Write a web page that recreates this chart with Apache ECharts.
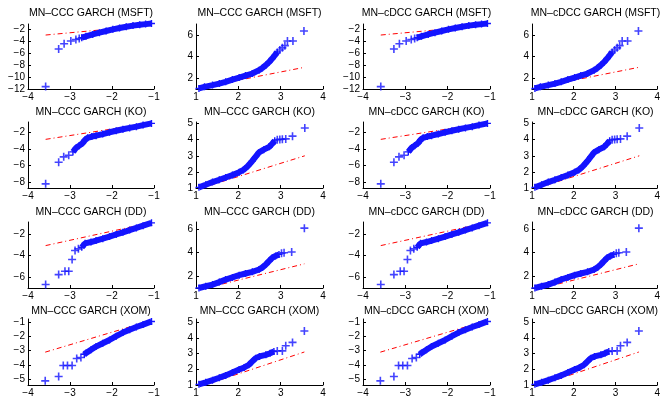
<!DOCTYPE html>
<html><head><meta charset="utf-8">
<script src="https://cdn.jsdelivr.net/npm/echarts@6/dist/echarts.min.js"></script>
<style>html,body{margin:0;padding:0;background:#fff}#c{width:663px;height:398px}</style>
</head><body><div id="c"></div>
<script>
// ---------- labels ----------
const stocks = ['MSFT', 'KO', 'DD', 'XOM'];
const models = ['MN\u2013CCC GARCH', 'MN\u2013cDCC GARCH'];

// ---------- x axes ----------
const xTicksLeft = [-4, -3, -2, -1];
const xTicksRight = [1, 2, 3, 4];
const xRangeLeft = [-4, -1];
const xRangeRight = [1, 4];

// ---------- MSFT ----------
const msftLeftTicks = [-12, -10, -8, -6, -4, -2];
const msftLeftRange = [-12, -1.1];
const msftLeftPts = [[-3.58, -11.6], [-3.27, -5.3], [-3.14, -4.4], [-2.98, -3.95], [-2.86, -3.7], [-2.78, -3.55]];
const msftLeftBand = [[-2.72, -3.4], [-2.62, -3.17], [-2.46, -2.85], [-2.30, -2.55], [-2.14, -2.27], [-1.98, -2.0], [-1.82, -1.77], [-1.66, -1.55], [-1.50, -1.37], [-1.34, -1.22], [-1.2, -1.12], [-1.06, -1.02]];
const msftLeftRef = [[-3.58, -2.95], [-1.06, -1.3]];
const msftRightTicks = [2, 4, 6];
const msftRightRange = [1, 7];
const msftRightBand = [[1.07, 1.05], [1.2, 1.2], [1.39, 1.36], [1.55, 1.5], [1.70, 1.66], [1.86, 1.87], [2.02, 2.06], [2.17, 2.24], [2.33, 2.43], [2.49, 2.74], [2.57, 2.95], [2.65, 3.2], [2.73, 3.5], [2.80, 3.81], [2.86, 4.1], [2.92, 4.42]];
const msftRightPts = [[2.98, 4.6], [3.04, 4.8], [3.10, 5.0], [3.16, 5.43], [3.29, 5.43], [3.55, 6.35]];
const msftRightRef = [[1.07, 1.1], [3.56, 3.0]];

// ---------- KO ----------
const koLeftTicks = [-8, -6, -4, -2];
const koLeftRange = [-8.7, -0.75];
const koLeftPts = [[-3.58, -8.2], [-3.27, -5.6], [-3.15, -4.95], [-3.03, -4.75]];
const koLeftBand = [[-2.93, -4.35], [-2.85, -3.85], [-2.78, -3.6], [-2.70, -3.3], [-2.64, -2.9], [-2.58, -2.65], [-2.48, -2.5], [-2.38, -2.4], [-2.22, -2.2], [-2.06, -1.99], [-1.9, -1.8], [-1.74, -1.62], [-1.58, -1.46], [-1.42, -1.31], [-1.26, -1.12], [-1.06, -0.92]];
const koLeftRef = [[-3.58, -2.84], [-1.06, -0.85]];
const koRightTicks = [1, 2, 3, 4, 5];
const koRightRange = [1, 5.1];
const koRightBand = [[1.07, 1.04], [1.23, 1.2], [1.39, 1.37], [1.55, 1.51], [1.70, 1.65], [1.86, 1.8], [2.02, 1.98], [2.12, 2.12], [2.22, 2.35], [2.33, 2.68], [2.41, 2.95], [2.49, 3.21], [2.6, 3.38], [2.73, 3.56], [2.8, 3.75], [2.86, 3.93]];
const koRightPts = [[2.92, 4.0], [2.98, 4.02], [3.04, 4.03], [3.12, 4.05], [3.28, 4.22], [3.57, 4.73]];
const koRightRef = [[1.07, 0.95], [3.57, 3.0]];

// ---------- DD ----------
const ddLeftTicks = [-6, -4, -2];
const ddLeftRange = [-7, -0.9];
const ddLeftPts = [[-3.58, -6.68], [-3.27, -5.76], [-3.12, -5.45], [-3.03, -5.45], [-2.95, -4.37], [-2.88, -3.54], [-2.80, -3.38]];
const ddLeftBand = [[-2.72, -3.24], [-2.64, -2.87], [-2.5, -2.75], [-2.38, -2.62], [-2.22, -2.44], [-2.06, -2.25], [-1.9, -2.05], [-1.74, -1.85], [-1.58, -1.65], [-1.42, -1.45], [-1.26, -1.24], [-1.06, -0.98]];
const ddLeftRef = [[-3.58, -3.08], [-1.06, -0.95]];
const ddRightTicks = [2, 4, 6];
const ddRightRange = [1, 6.6];
const ddRightBand = [[1.07, 1.0], [1.23, 1.15], [1.39, 1.29], [1.55, 1.5], [1.70, 1.72], [1.86, 1.9], [2.02, 2.09], [2.17, 2.23], [2.33, 2.37], [2.49, 2.57], [2.57, 2.75], [2.65, 3.0], [2.73, 3.3], [2.80, 3.56], [2.88, 3.72], [2.96, 3.85]];
const ddRightPts = [[3.02, 3.95], [3.08, 3.99], [3.26, 4.05], [3.56, 6.08]];
const ddRightRef = [[1.07, 0.85], [3.56, 3.05]];

// ---------- XOM ----------
const xomLeftTicks = [-5, -4, -3, -2, -1];
const xomLeftRange = [-5.4, -0.78];
const xomLeftPts = [[-3.59, -5.11], [-3.27, -4.81], [-3.16, -4.03], [-3.06, -4.03], [-2.95, -4.03], [-2.84, -3.55], [-2.74, -3.47]];
const xomLeftBand = [[-2.66, -3.25], [-2.62, -3.16], [-2.5, -2.93], [-2.38, -2.71], [-2.22, -2.48], [-2.06, -2.25], [-1.9, -1.98], [-1.74, -1.73], [-1.58, -1.53], [-1.42, -1.34], [-1.26, -1.17], [-1.06, -0.95]];
const xomLeftRef = [[-3.59, -3.10], [-1.06, -0.88]];
const xomRightTicks = [1, 2, 3, 4, 5];
const xomRightRange = [1, 5.2];
const xomRightBand = [[1.07, 1.04], [1.23, 1.17], [1.39, 1.31], [1.55, 1.46], [1.70, 1.61], [1.86, 1.79], [2.02, 1.98], [2.14, 2.12], [2.25, 2.29], [2.33, 2.5], [2.41, 2.71], [2.5, 2.82], [2.65, 2.92], [2.75, 3.02], [2.84, 3.13]];
const xomRightPts = [[2.92, 3.17], [3.04, 3.17], [3.12, 3.5], [3.28, 3.71], [3.56, 4.44]];
const xomRightRef = [[1.07, 0.88], [3.56, 3.1]];

// ---------- lookup table built from the arrays ----------
const tails = {
  MSFT: { left: { band: msftLeftBand, pts: msftLeftPts, ref: msftLeftRef, ticks: msftLeftTicks, range: msftLeftRange },
          right: { band: msftRightBand, pts: msftRightPts, ref: msftRightRef, ticks: msftRightTicks, range: msftRightRange } },
  KO:   { left: { band: koLeftBand, pts: koLeftPts, ref: koLeftRef, ticks: koLeftTicks, range: koLeftRange },
          right: { band: koRightBand, pts: koRightPts, ref: koRightRef, ticks: koRightTicks, range: koRightRange } },
  DD:   { left: { band: ddLeftBand, pts: ddLeftPts, ref: ddLeftRef, ticks: ddLeftTicks, range: ddLeftRange },
          right: { band: ddRightBand, pts: ddRightPts, ref: ddRightRef, ticks: ddRightTicks, range: ddRightRange } },
  XOM:  { left: { band: xomLeftBand, pts: xomLeftPts, ref: xomLeftRef, ticks: xomLeftTicks, range: xomLeftRange },
          right: { band: xomRightBand, pts: xomRightPts, ref: xomRightRef, ticks: xomRightTicks, range: xomRightRange } }
};

// ---------- layout ----------
const colLeft = [28, 196, 363, 532];
const colWidth = [126, 127, 127, 127];
const rowTop = [24, 122, 222, 319];
const rowHeight = [65, 66, 66, 67];
const titleY = [13, 112, 212, 311];

const FONT = '"Liberation Sans", Arial, Helvetica, sans-serif';
const BLUE = '#1414ff';
const PLUS = 'path://M4,0H6V4H10V6H6V10H4V6H0V4H4Z';
const fmt = v => String(v).replace('-', '\u2212');

const grid = [], xAxis = [], yAxis = [], series = [], graphic = [];
for (let r = 0; r < 4; r++) {
  for (let c = 0; c < 4; c++) {
    const p = r * 4 + c;
    const side = c % 2 === 0 ? 'left' : 'right';
    const model = models[c < 2 ? 0 : 1];
    const d = tails[stocks[r]][side];
    const xr = side === 'left' ? xRangeLeft : xRangeRight;
    const xt = side === 'left' ? xTicksLeft : xTicksRight;
    grid.push({ left: colLeft[c], top: rowTop[r], width: colWidth[c], height: rowHeight[r] });
    const axisCommon = {
      type: 'value', gridIndex: p, splitLine: { show: false },
      axisLine: { show: true, onZero: false, lineStyle: { color: '#000', width: 1 } }
    };
    xAxis.push(Object.assign({}, axisCommon, {
      min: xr[0], max: xr[1],
      axisTick: { show: true, inside: true, length: 3, customValues: xt, lineStyle: { color: '#000' } },
      axisLabel: { customValues: xt, formatter: fmt, fontSize: 10, color: '#000', margin: 3, fontFamily: FONT }
    }));
    yAxis.push(Object.assign({}, axisCommon, {
      min: d.range[0], max: d.range[1],
      axisTick: { show: true, inside: true, length: 3, customValues: d.ticks, lineStyle: { color: '#000' } },
      axisLabel: { customValues: d.ticks, formatter: fmt, fontSize: 10, color: '#000', margin: 3, fontFamily: FONT }
    }));
    series.push({
      type: 'line', xAxisIndex: p, yAxisIndex: p, data: d.ref, symbol: 'none', silent: true, z: 2,
      lineStyle: { color: '#ff0000', width: 1, type: [5, 3, 1, 3] }, animation: false
    });
    series.push({
      type: 'line', xAxisIndex: p, yAxisIndex: p, data: d.band, symbol: PLUS, symbolSize: 7, showSymbol: true,
      silent: true, z: 3, clip: false, smooth: false,
      itemStyle: { color: BLUE }, lineStyle: { color: BLUE, width: 6 }, animation: false
    });
    series.push({
      type: 'scatter', xAxisIndex: p, yAxisIndex: p, data: d.pts, symbol: PLUS, symbolSize: 8,
      silent: true, z: 4, itemStyle: { color: BLUE }, animation: false
    });
    graphic.push({
      type: 'text', x: colLeft[c] + colWidth[c] / 2, y: titleY[r], silent: true,
      style: { text: model + ' (' + stocks[r] + ')', textAlign: 'center', textVerticalAlign: 'middle', verticalAlign: 'middle',
               fill: '#000', font: '10.5px ' + FONT }
    });
  }
}

const chart = echarts.init(document.getElementById('c'), null, { renderer: 'canvas' });
chart.setOption({ animation: false, backgroundColor: '#fff', grid, xAxis, yAxis, series, graphic });
</script>
</body></html>
